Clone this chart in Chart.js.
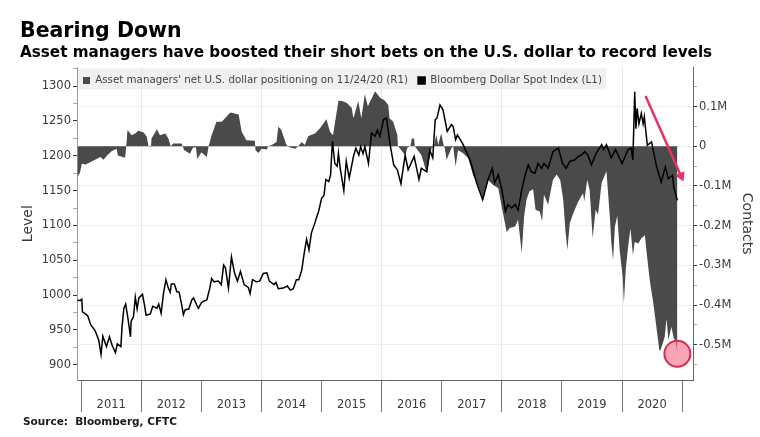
<!DOCTYPE html>
<html><head><meta charset="utf-8">
<style>html,body{margin:0;padding:0;background:#fff}#w{width:760px;height:437px;position:relative}</style>
<script src="https://cdn.jsdelivr.net/npm/chart.js@4"></script>
</head><body><div id="w"><canvas id="c" width="760" height="437"></canvas></div>
<script>
const titleText = "Bearing Down";
const subtitleText = "Asset managers have boosted their short bets on the U.S. dollar to record levels";
const sourceText = "Source:  Bloomberg, CFTC";
const areaLabel = "Asset managers' net U.S. dollar positioning on 11/24/20 (R1)";
const lineLabel = "Bloomberg Dollar Spot Index (L1)";

const indexYears = [2010.94,2010.98,2011.01,2011.02,2011.07,2011.11,2011.16,2011.23,2011.29,2011.33,2011.36,2011.42,2011.47,2011.51,2011.57,2011.60,2011.66,2011.68,2011.71,2011.74,2011.78,2011.82,2011.83,2011.87,2011.90,2011.93,2011.96,2012.02,2012.05,2012.08,2012.15,2012.19,2012.26,2012.29,2012.33,2012.37,2012.41,2012.45,2012.48,2012.50,2012.55,2012.59,2012.63,2012.67,2012.70,2012.73,2012.79,2012.84,2012.87,2012.92,2012.95,2013.00,2013.03,2013.09,2013.14,2013.17,2013.21,2013.28,2013.33,2013.37,2013.40,2013.45,2013.50,2013.55,2013.60,2013.65,2013.71,2013.78,2013.81,2013.85,2013.92,2013.97,2014.03,2014.09,2014.13,2014.21,2014.24,2014.28,2014.36,2014.43,2014.48,2014.53,2014.58,2014.62,2014.67,2014.71,2014.75,2014.79,2014.83,2014.89,2014.91,2014.95,2015.00,2015.04,2015.07,2015.12,2015.15,2015.18,2015.22,2015.26,2015.28,2015.31,2015.37,2015.41,2015.46,2015.53,2015.57,2015.62,2015.65,2015.69,2015.72,2015.78,2015.83,2015.89,2015.93,2015.97,2016.03,2016.08,2016.14,2016.20,2016.26,2016.32,2016.39,2016.44,2016.54,2016.62,2016.66,2016.75,2016.80,2016.85,2016.89,2016.92,2016.97,2017.02,2017.09,2017.16,2017.19,2017.23,2017.26,2017.35,2017.47,2017.58,2017.68,2017.77,2017.84,2017.88,2017.94,2018.00,2018.06,2018.10,2018.16,2018.22,2018.27,2018.33,2018.38,2018.44,2018.49,2018.55,2018.60,2018.66,2018.70,2018.77,2018.85,2018.94,2019.01,2019.07,2019.13,2019.21,2019.27,2019.32,2019.38,2019.43,2019.49,2019.57,2019.66,2019.69,2019.74,2019.82,2019.89,2020.00,2020.10,2020.15,2020.18,2020.21,2020.23,2020.25,2020.28,2020.32,2020.35,2020.37,2020.42,2020.49,2020.57,2020.65,2020.72,2020.77,2020.84,2020.86,2020.92];
const indexValues = [993,992,994,976,973,970,957,949,936,915,941,926,940,929,917,930,926,955,981,987,965,940,962,969,997,980,996,1001,987,971,973,984,981,987,974,1003,1022,1010,1004,1016,1016,1005,1004,987,972,979,980,993,996,986,981,989,991,993,1010,1024,1019,1020,1015,1043,1039,1010,1055,1032,1020,1034,1015,1011,1002,1022,1019,1020,1031,1032,1020,1015,1018,1009,1010,1013,1007,1009,1022,1022,1036,1060,1080,1065,1089,1104,1110,1120,1139,1143,1166,1163,1173,1221,1189,1185,1204,1182,1150,1192,1168,1199,1211,1201,1213,1203,1213,1189,1233,1228,1237,1228,1252,1254,1216,1187,1180,1160,1201,1180,1199,1166,1182,1177,1208,1197,1252,1254,1273,1266,1235,1245,1242,1223,1230,1217,1194,1161,1137,1166,1182,1161,1173,1151,1120,1130,1125,1130,1122,1151,1170,1187,1177,1175,1189,1182,1189,1182,1206,1211,1189,1182,1192,1194,1199,1201,1206,1201,1187,1204,1216,1209,1216,1197,1209,1189,1209,1211,1194,1292,1239,1268,1246,1261,1246,1256,1215,1220,1186,1162,1184,1167,1172,1155,1136];

const positionYears = [2010.94,2010.98,2011.01,2011.07,2011.15,2011.23,2011.32,2011.37,2011.43,2011.51,2011.59,2011.61,2011.73,2011.75,2011.77,2011.84,2011.90,2011.95,2012.04,2012.09,2012.12,2012.16,2012.17,2012.26,2012.31,2012.40,2012.45,2012.49,2012.53,2012.67,2012.69,2012.71,2012.81,2012.86,2012.91,2012.93,2013.00,2013.09,2013.12,2013.17,2013.25,2013.34,2013.48,2013.62,2013.67,2013.75,2013.89,2013.90,2013.95,2014.00,2014.09,2014.11,2014.17,2014.25,2014.28,2014.33,2014.41,2014.45,2014.56,2014.61,2014.67,2014.72,2014.78,2014.89,2014.97,2015.08,2015.14,2015.19,2015.28,2015.34,2015.42,2015.50,2015.53,2015.61,2015.66,2015.72,2015.77,2015.89,2015.98,2016.04,2016.11,2016.13,2016.19,2016.26,2016.27,2016.30,2016.39,2016.43,2016.48,2016.50,2016.54,2016.55,2016.66,2016.75,2016.83,2016.87,2016.91,2016.94,2016.99,2017.03,2017.05,2017.08,2017.16,2017.19,2017.23,2017.27,2017.36,2017.44,2017.52,2017.60,2017.69,2017.77,2017.85,2017.94,2018.02,2018.08,2018.13,2018.22,2018.27,2018.33,2018.37,2018.41,2018.46,2018.52,2018.56,2018.63,2018.67,2018.70,2018.77,2018.80,2018.85,2018.91,2018.97,2019.02,2019.06,2019.09,2019.13,2019.19,2019.27,2019.35,2019.37,2019.42,2019.46,2019.51,2019.56,2019.60,2019.66,2019.74,2019.80,2019.82,2019.85,2019.88,2019.92,2019.96,2020.01,2020.03,2020.06,2020.10,2020.14,2020.18,2020.21,2020.27,2020.32,2020.38,2020.41,2020.46,2020.52,2020.57,2020.62,2020.64,2020.71,2020.74,2020.77,2020.82,2020.86,2020.89,2020.92];
const positionValues = [-77,-66,-44,-46,-40,-34,-27,-34,-23,-12,-6,-23,-29,0,41,28,32,39,35,24,0,-2,20,43,28,32,20,0,7,7,0,-9,-19,-3,-3,-32,-15,-27,0,28,62,62,85,80,37,15,14,-10,-17,-6,-8,0,3,11,50,41,5,-2,-6,0,11,3,26,32,45,68,37,28,115,114,109,97,71,114,71,131,101,139,121,117,104,71,62,29,0,-5,-22,-3,0,20,20,0,-22,-68,-5,0,29,3,33,3,-5,-34,-5,0,-51,-9,-18,-30,-72,-97,-135,-85,-97,-106,-170,-216,-206,-202,-185,-269,-176,-134,-113,-108,-160,-164,-189,-122,-147,-122,-84,-71,-84,-134,-218,-261,-193,-168,-139,-118,-139,-84,-109,-231,-160,-172,-92,-63,-186,-241,-287,-203,-175,-262,-329,-396,-312,-253,-207,-274,-241,-245,-232,-224,-270,-337,-396,-455,-514,-514,-480,-434,-489,-455,-484,-490,-523];

const latestYear = [2020.92];
const latestPosition = [-523];
const arrowYears = [2020.39,2020.98];
const arrowLevels = [1286,1171];
const leftRange = [878,1327];
const rightRange = [-589,199];
const xRange = [2010.93,2021.18];

const pair = (xs, ys) => xs.map((x, i) => ({x, y: ys[i]}));
const axisFont = {family: "'DejaVu Sans'", size: 11.5};
const textColor = '#3a3a3a';

const furniture = {
  id: 'furniture',
  beforeLayout(chart) {
    const L = chart.legend;
    if (L && !L.__flat) {
      const fit = L.fit.bind(L);
      L.fit = function () { fit(); this.height = 0; };
      L.__flat = true;
    }
  },
  afterLayout(chart) {
    const L = chart.legend, a = chart.chartArea;
    L.left = a.left - 4; L.right = a.left + 620; L.width = 624;
    L.top = a.top - 2; L.height = 26; L.bottom = a.top + 24;
  },
  beforeDraw(chart) {
    const a = chart.chartArea, c = chart.ctx;
    c.save();
    c.fillStyle = '#f0f0f0';
    c.fillRect(a.left, a.top + 1, 529.5, 21);
    c.restore();
  },
  afterDraw(chart) {
    const c = chart.ctx;
    c.save();
    c.fillStyle = '#1a1a1a';
    c.font = "bold 10.5px 'DejaVu Sans'";
    c.textBaseline = 'alphabetic';
    c.fillText(sourceText, 23, 425);
    c.restore();
  }
};

new Chart(document.getElementById('c'), {
  data: {
    datasets: [
      {type:'line', label: areaLabel, data: pair(positionYears, positionValues), yAxisID:'y1', order:3,
       borderWidth:0, borderColor:'#4a4a4a', backgroundColor:'#4a4a4a', fill:{value:0}, pointRadius:0, tension:0},
      {type:'line', label: lineLabel, data: pair(indexYears, indexValues), yAxisID:'y', order:1,
       borderWidth:1.5, borderColor:'#000', backgroundColor:'#000', fill:false, pointRadius:0, tension:0},
      {type:'line', label:'latest', data: pair(latestYear, latestPosition), yAxisID:'y1', order:2, showLine:false,
       pointRadius:13, pointBackgroundColor:'rgba(245,110,135,0.62)', pointBorderColor:'#d92c55', pointBorderWidth:2},
      {type:'line', label:'arrow', data: pair(arrowYears, arrowLevels), yAxisID:'y', order:0,
       borderWidth:2.5, borderColor:'#e8325f', backgroundColor:'#e8325f', fill:false, tension:0,
       pointStyle:'triangle', pointRadius:[0,6], pointRotation:[0,156], pointBorderWidth:0, pointBackgroundColor:'#e8325f'}
    ]
  },
  plugins: [furniture],
  options: {
    responsive:false, animation:false, devicePixelRatio:1,
    layout:{padding:{left:20,right:5,top:19,bottom:0}},
    interaction:{mode:null},
    plugins:{
      tooltip:{enabled:false},
      title:{display:true,text:titleText,align:'start',color:'#000',padding:{top:0,bottom:0},
        font:{family:"'DejaVu Sans'",size:20.5,weight:'bold',lineHeight:1.2}},
      subtitle:{display:true,text:subtitleText,align:'start',color:'#000',padding:{top:0,bottom:4},
        font:{family:"'DejaVu Sans'",size:15.2,weight:'bold',lineHeight:1.3}},
      legend:{display:true,position:'top',align:'start',
        labels:{boxWidth:7,boxHeight:7,padding:10,color:'#444',
          font:{family:"'DejaVu Sans'",size:10.3},
          sort:(a,b)=>a.datasetIndex-b.datasetIndex,
          filter:(it)=>it.text===areaLabel||it.text===lineLabel}}
    },
    scales:{
      x:{type:'linear',min:xRange[0],max:xRange[1],
        afterFit(s){s.height=57;},
        border:{color:'#666',width:1},
        grid:{drawTicks:true,tickLength:32,tickColor:'#777',lineWidth:1,
          color:(c)=>c.tick&&Math.round(c.tick.value)%2===0?'#e6e6e6':'rgba(0,0,0,0)'},
        ticks:{stepSize:1,includeBounds:false,autoSkip:false,maxRotation:0,minRotation:0,
          labelOffset:30,padding:-14,color:textColor,font:axisFont,
          callback:(v)=>v<2021?String(Math.round(v)):''}},
      y:{position:'left',min:leftRange[0],max:leftRange[1],
        afterFit(s){s.width=57;},
        title:{display:true,text:'Level',color:textColor,padding:0,font:{family:"'DejaVu Sans'",size:14}},
        border:{color:'#999',width:1},
        grid:{drawOnChartArea:false,tickLength:4,
          tickColor:(c)=>c.tick&&c.tick.value%50===0?'#333':'#aaa'},
        ticks:{stepSize:25,includeBounds:false,autoSkip:false,padding:2,color:textColor,font:axisFont,
          callback:(v)=>v%50===0?String(v):''}},
      y1:{position:'right',min:rightRange[0],max:rightRange[1],
        afterFit(s){s.width=62;},
        title:{display:true,text:'Contacts',color:textColor,padding:{top:0,bottom:2},font:{family:"'DejaVu Sans'",size:14}},
        border:{color:'#666',width:1},
        grid:{tickLength:4,lineWidth:1,
          color:(c)=>c.tick&&c.tick.value%100===0?'#eeeeee':'rgba(0,0,0,0)',
          tickColor:(c)=>c.tick&&c.tick.value%100===0?'#333':'#aaa'},
        ticks:{stepSize:50,includeBounds:false,autoSkip:false,padding:2,color:textColor,font:axisFont,
          callback:(v)=>v===0?'0':(v%100===0?(v/1000).toFixed(1)+'M':'')}}
    }
  }
});
</script></body></html>
